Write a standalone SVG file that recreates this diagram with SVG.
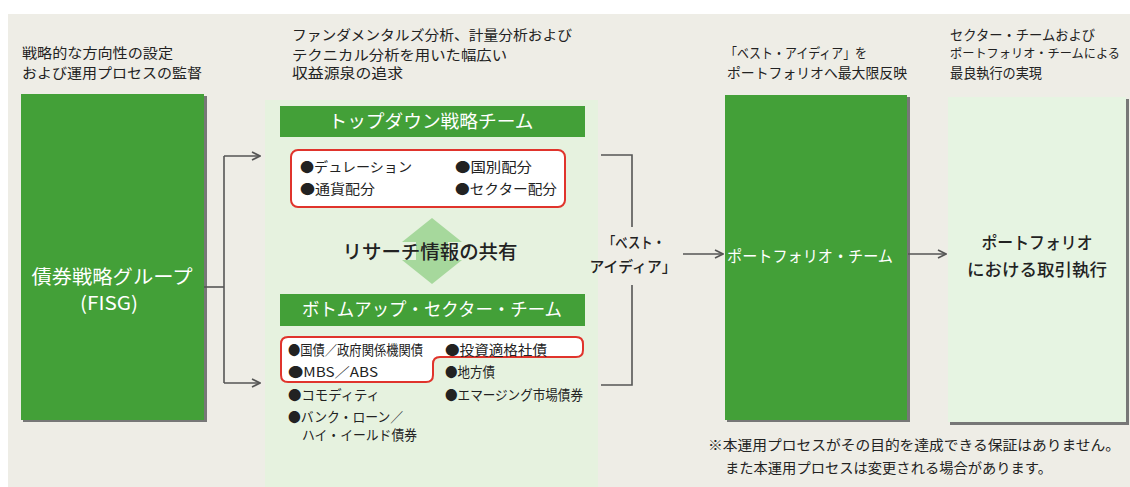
<svg xmlns="http://www.w3.org/2000/svg" width="1130" height="487" viewBox="0 0 1130 487">
<defs>
<style>
text{font-family:"Noto Sans CJK JP","Noto Sans",sans-serif;}
.cap{font-size:14px;fill:#222;}
.item{font-size:13.5px;fill:#222;}
.wlab{fill:#fff;text-anchor:middle;}
.blab{fill:#222;text-anchor:middle;font-weight:500;}
.green{fill:#43a038;}
.shadow{fill:#777;}
.conn{fill:none;stroke:#555;stroke-width:1.6;}
.red{fill:#fff;stroke:#e0342c;stroke-width:2;}
</style>
<marker id="arr" viewBox="0 0 10 10" refX="9" refY="5" markerWidth="10" markerHeight="10" markerUnits="userSpaceOnUse" orient="auto">
<path d="M1,1 L9,5 L1,9" fill="none" stroke="#555" stroke-width="1.6"/>
</marker>
</defs>
<rect x="0" y="0" width="1130" height="487" fill="#fff"/>
<rect x="8" y="14" width="1122" height="473" fill="#eeede6"/>

<g id="captions">
<text class="cap" x="22" y="58" textLength="151" lengthAdjust="spacingAndGlyphs">戦略的な方向性の設定</text>
<text class="cap" x="22" y="78" textLength="180" lengthAdjust="spacingAndGlyphs">および運用プロセスの監督</text>
<text class="cap" x="292" y="40" textLength="280" lengthAdjust="spacingAndGlyphs">ファンダメンタルズ分析、計量分析および</text>
<text class="cap" x="292" y="60" textLength="215" lengthAdjust="spacingAndGlyphs">テクニカル分析を用いた幅広い</text>
<text class="cap" x="292" y="78" textLength="111" lengthAdjust="spacingAndGlyphs">収益源泉の追求</text>
<text class="cap" x="725" y="58" textLength="142" lengthAdjust="spacingAndGlyphs">「ベスト・アイディア」を</text>
<text class="cap" x="727" y="78" textLength="180" lengthAdjust="spacingAndGlyphs">ポートフォリオへ最大限反映</text>
<text class="cap" x="950" y="40" textLength="145" lengthAdjust="spacingAndGlyphs">セクター・チームおよび</text>
<text class="cap" x="950" y="58" font-size="12.2" textLength="170" lengthAdjust="spacingAndGlyphs" style="font-size:12.2px">ポートフォリオ・チームによる</text>
<text class="cap" x="950" y="78" textLength="92" lengthAdjust="spacingAndGlyphs">最良執行の実現</text>
</g>

<g id="fisg">
<rect class="shadow" x="23" y="96" width="184" height="326"/>
<rect class="green" x="21" y="94" width="183" height="326"/>
<text class="wlab" x="112" y="284" font-size="19" textLength="161" lengthAdjust="spacingAndGlyphs">債券戦略グループ</text>
<text class="wlab" x="109" y="310" font-size="19" textLength="58" lengthAdjust="spacingAndGlyphs">(FISG)</text>
</g>

<rect id="mid-panel" x="265" y="100" width="333" height="387" fill="#e6f2df"/>

<g id="topdown">
<rect class="green" x="280" y="106" width="305" height="31"/>
<text class="wlab" x="431" y="128" font-size="18" textLength="205" lengthAdjust="spacingAndGlyphs">トップダウン戦略チーム</text>
<rect class="red" x="291" y="150" width="274" height="57" rx="7"/>
<text class="item" x="300" y="172" textLength="112" lengthAdjust="spacingAndGlyphs">●デュレーション</text>
<text class="item" x="455" y="172" textLength="77" lengthAdjust="spacingAndGlyphs">●国別配分</text>
<text class="item" x="300" y="194" textLength="75" lengthAdjust="spacingAndGlyphs">●通貨配分</text>
<text class="item" x="455" y="194" textLength="102" lengthAdjust="spacingAndGlyphs">●セクター配分</text>
</g>

<g id="research">
<polygon points="432,218 462,242 448,242 448,260 462,260 432,284 402,260 416,260 416,242 402,242" fill="#a6d89c"/>
<text class="blab" x="430" y="259" font-size="19" textLength="175" lengthAdjust="spacingAndGlyphs">リサーチ情報の共有</text>
</g>

<g id="bottomup">
<rect class="green" x="280" y="294" width="305" height="32"/>
<text class="wlab" x="432" y="316" font-size="18" textLength="260" lengthAdjust="spacingAndGlyphs">ボトムアップ・セクター・チーム</text>
<path class="red" d="M288,337 H576 Q583,337 583,344 V350 Q583,357 576,357 H440 Q433,357 433,364 V375 Q433,382 426,382 H288 Q281,382 281,375 V344 Q281,337 288,337 Z"/>
<text class="item" x="288" y="355" textLength="135" lengthAdjust="spacingAndGlyphs">●国債／政府関係機関債</text>
<text class="item" x="445" y="355" textLength="102" lengthAdjust="spacingAndGlyphs">●投資適格社債</text>
<text class="item" x="288" y="377" textLength="90" lengthAdjust="spacingAndGlyphs">●MBS／ABS</text>
<text class="item" x="445" y="377" textLength="50" lengthAdjust="spacingAndGlyphs">●地方債</text>
<text class="item" x="288" y="400" textLength="92" lengthAdjust="spacingAndGlyphs">●コモディティ</text>
<text class="item" x="445" y="400" textLength="138" lengthAdjust="spacingAndGlyphs">●エマージング市場債券</text>
<text class="item" x="288" y="422" textLength="115" lengthAdjust="spacingAndGlyphs">●バンク・ローン／</text>
<text class="item" x="302" y="440" textLength="115" lengthAdjust="spacingAndGlyphs">ハイ・イールド債券</text>
</g>

<g id="bestidea">
<text class="blab" x="634" y="248" font-size="15" textLength="62" lengthAdjust="spacingAndGlyphs">「ベスト・</text>
<text class="blab" x="633" y="272" font-size="15" textLength="87" lengthAdjust="spacingAndGlyphs">アイディア」</text>
</g>

<g id="portfolio-team">
<rect class="shadow" x="727" y="97" width="183" height="325"/>
<rect class="green" x="725" y="95" width="182" height="325"/>
<text class="wlab" x="810" y="262" font-size="16" textLength="166" lengthAdjust="spacingAndGlyphs">ポートフォリオ・チーム</text>
</g>

<g id="execution">
<rect class="shadow" x="950" y="99" width="179" height="326"/>
<rect x="948" y="97" width="178" height="325" fill="#e6f4e2"/>
<text class="blab" x="1037" y="249" font-size="17" textLength="111" lengthAdjust="spacingAndGlyphs">ポートフォリオ</text>
<text class="blab" x="1037" y="276" font-size="17" textLength="140" lengthAdjust="spacingAndGlyphs">における取引執行</text>
</g>

<g id="connectors">
<path class="conn" d="M204,287 H224"/>
<path class="conn" d="M224,156 V383"/>
<path class="conn" d="M224,156 H260" marker-end="url(#arr)"/>
<path class="conn" d="M224,383 H260" marker-end="url(#arr)"/>
<path class="conn" d="M601,155 H632 V227"/>
<path class="conn" d="M632,285 V385 H601"/>
<path class="conn" d="M683,254 H723" marker-end="url(#arr)"/>
<path class="conn" d="M908,254 H946" marker-end="url(#arr)"/>
</g>

<g id="footnote">
<text class="cap" x="708" y="450" font-size="14.5" textLength="412" lengthAdjust="spacingAndGlyphs">※本運用プロセスがその目的を達成できる保証はありません。</text>
<text class="cap" x="725" y="473" font-size="14.5" textLength="327" lengthAdjust="spacingAndGlyphs">また本運用プロセスは変更される場合があります。</text>
</g>
</svg>
